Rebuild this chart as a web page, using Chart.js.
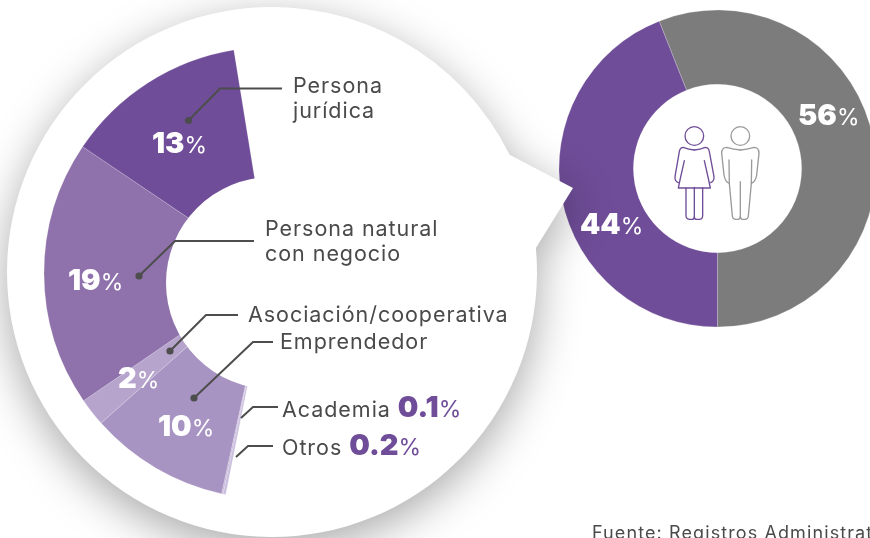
<!DOCTYPE html>
<html>
<head>
<meta charset="utf-8">
<script src="https://cdn.jsdelivr.net/npm/chart.js@4"></script>
<style>
html, body { margin: 0; padding: 0; background: #fff; width: 870px; height: 538px; overflow: hidden; }
canvas { position: absolute; }
#sexChart { left: 558px; top: 9px; }
#typeChart { left: 0; top: 0; }
.t { position: absolute; font-family: Inter, sans-serif; font-size: 21.5px; line-height: 25px; letter-spacing: 0.95px; color: #4a4a4a; white-space: nowrap; }
.p { position: absolute; font-family: Inter, sans-serif; font-size: 23px; line-height: 30px; color: #fff; white-space: nowrap; }
.p b, .t b { font-weight: 900; font-size: 29px; letter-spacing: 0; }
.t b { color: #6f4d98; }
.t i { font-style: normal; color: #6f4d98; font-size: 23px; letter-spacing: 0; }
#icon { position: absolute; left: 660px; top: 110px; }
</style>
</head>
<body>
<canvas id="sexChart" width="319" height="319"></canvas>
<canvas id="typeChart" width="870" height="538"></canvas>

<svg id="icon" width="120" height="120" viewBox="0 0 360 360" fill="none" stroke-width="4" stroke-linejoin="round" stroke-linecap="round">
  <g stroke="#6f4d98">
    <circle cx="103" cy="78" r="28"/>
    <path d="M103 120 Q85 118 70 112 Q60 112 58 125 L45 200 Q44 214 55 218"/>
    <path d="M103 120 Q121 118 136 112 Q146 112 148 125 L162 200 Q163 214 152 218"/>
    <path d="M73 152 L60 210 L55 234 H151 L146 210 L133 152"/>
    <path d="M78 234 V318 Q79 328 90 328 H96 Q103 328 103 320 V232"/>
    <path d="M103 320 Q103 328 110 328 H118 Q127 328 128 318 V234"/>
  </g>
  <g stroke="#9a9a9a">
    <circle cx="241" cy="78" r="28"/>
    <path d="M241 120 Q222 118 200 112 Q185 112 185 130 L192 195 Q195 215 208 220"/>
    <path d="M241 120 Q260 118 282 112 Q297 112 297 130 L290 195 Q287 215 274 220"/>
    <path d="M207 150 L208 220 L217 318 Q218 328 228 328 H234 Q241 328 241 318 V215"/>
    <path d="M275 150 L274 220 L265 318 Q264 328 254 328 H248 Q241 328 241 318"/>
  </g>
</svg>

<div class="t" id="lJuridica" style="left:293px;top:73px">Persona<br>jurídica</div>
<div class="t" id="lNatural" style="left:265px;top:216px">Persona natural<br>con negocio</div>
<div class="t" id="lAsociacion" style="left:248px;top:302px"></div>
<div class="t" id="lEmprendedor" style="left:280px;top:329px"></div>
<div class="t" id="lAcademia" style="left:282px;top:394px"></div>
<div class="t" id="lOtros" style="left:282px;top:432px"></div>
<div class="t" id="fuente" style="left:592px;top:520px;font-size:18px;letter-spacing:1.1px">Fuente: Registros Administrativos</div>

<div class="p" id="pJuridica" style="left:152px;top:128px"></div>
<div class="p" id="pNatural" style="left:68px;top:265px"></div>
<div class="p" id="pAsociacion" style="left:118px;top:363px"></div>
<div class="p" id="pEmprendedor" style="left:158px;top:411px"></div>
<div class="p" id="pMujeres" style="left:580px;top:209px"></div>
<div class="p" id="pHombres" style="left:798px;top:100px"></div>

<script>
// Pie of pie: 44% women breaks down into the types on the left
const sexLabels = ['Hombres', 'Mujeres'];
const sexValues = [56, 44];
const sexColors = ['#7c7c7c', '#6f4d98'];

// clockwise from the bottom end of the ring, the last one is the part left empty
const typeLabels = ['Otros', 'Academia', 'Emprendedor', 'Asociación/cooperativa', 'Persona natural con negocio', 'Persona jurídica', 'Hombres'];
const typeValues = [0.2, 0.1, 10, 2, 19, 13, 55.7];
const typeColors = ['#cbbfde', '#c3b5d9', '#a894c2', '#b6a4cc', '#8f72ab', '#6f4d98', 'transparent'];

const leaders = [
    [[188.5, 120.5], [220, 88.5], [282, 88.5]],
    [[139, 276], [175, 241], [254, 241]],
    [[170, 351], [206, 315], [238, 315]],
    [[194, 398], [253, 342], [273, 342]],
    [[241, 418], [253, 407], [278, 407]],
    [[236, 457], [248, 446], [273, 446]]
];

// white bubble with its shadow, sits behind the ring and over the right chart
const bubble = {
    id: 'bubble',
    beforeDatasetsDraw(chart) {
        const c = chart.ctx;
        c.save();
        c.shadowColor = 'rgba(0,0,0,0.34)';
        c.shadowBlur = 45;
        c.shadowOffsetY = 12;
        c.fillStyle = '#fff';
        c.beginPath();
        const a1 = Math.atan2(155 - 272, 509 - 272);
        const a2 = Math.atan2(248 - 272, 537 - 272);
        c.arc(272, 272, 265, a2, a1, false);
        c.lineTo(573, 188);
        c.closePath();
        c.fill();
        c.restore();
    }
};

// the hole of the ring is a bit lower than the ring centre
const hole = {
    id: 'hole',
    afterDatasetsDraw(chart) {
        const arc = chart.getDatasetMeta(0).data[0];
        const c = chart.ctx;
        c.save();
        c.fillStyle = '#fff';
        c.beginPath();
        c.arc(arc.x + 2, arc.y + 10, 106, 0, Math.PI * 2);
        c.fill();
        c.restore();
    }
};

const leaderLines = {
    id: 'leaderLines',
    afterDraw(chart) {
        const c = chart.ctx;
        c.save();
        c.strokeStyle = '#4d4d4d';
        c.fillStyle = '#4d4d4d';
        c.lineWidth = 2;
        leaders.forEach((pts, i) => {
            c.beginPath();
            pts.forEach((p, j) => j ? c.lineTo(p[0], p[1]) : c.moveTo(p[0], p[1]));
            c.stroke();
            if (i < 4) {
                c.beginPath();
                c.arc(pts[0][0], pts[0][1], 3.6, 0, Math.PI * 2);
                c.fill();
            }
        });
        c.restore();
    }
};

new Chart(document.getElementById('sexChart'), {
    type: 'doughnut',
    data: {
        labels: sexLabels,
        datasets: [{
            data: sexValues,
            backgroundColor: sexColors,
            borderColor: 'rgba(255,255,255,0.35)',
            borderWidth: 0.6
        }]
    },
    options: {
        responsive: false,
        animation: false,
        rotation: -21.6,
        radius: 158.5,
        cutout: 84.5,
        plugins: { legend: { display: false }, tooltip: { enabled: false } }
    }
});

new Chart(document.getElementById('typeChart'), {
    type: 'doughnut',
    data: {
        labels: typeLabels,
        datasets: [{
            data: typeValues,
            backgroundColor: typeColors,
            borderColor: typeColors.map((c) => c === 'transparent' ? c : 'rgba(255,255,255,0.3)'),
            borderWidth: 0.6
        }]
    },
    options: {
        responsive: false,
        animation: false,
        rotation: 191.3,
        radius: 226,
        cutout: 90,
        layout: { padding: { right: 330, top: 8 } },
        plugins: { legend: { display: false }, tooltip: { enabled: false } }
    },
    plugins: [bubble, hole, leaderLines]
});

const pct = (v) => `<b>${v}</b>%`;
const setHtml = (id, html) => { document.getElementById(id).innerHTML = html; };
setHtml('pJuridica', pct(typeValues[5]));
setHtml('pNatural', pct(typeValues[4]));
setHtml('pAsociacion', pct(typeValues[3]));
setHtml('pEmprendedor', pct(typeValues[2]));
setHtml('pMujeres', pct(sexValues[1]));
setHtml('pHombres', pct(sexValues[0]));
setHtml('lAsociacion', typeLabels[3]);
setHtml('lEmprendedor', typeLabels[2]);
setHtml('lAcademia', `${typeLabels[1]} <b>${typeValues[1]}</b><i>%</i>`);
setHtml('lOtros', `${typeLabels[0]} <b>${typeValues[0]}</b><i>%</i>`);
</script>
</body>
</html>
